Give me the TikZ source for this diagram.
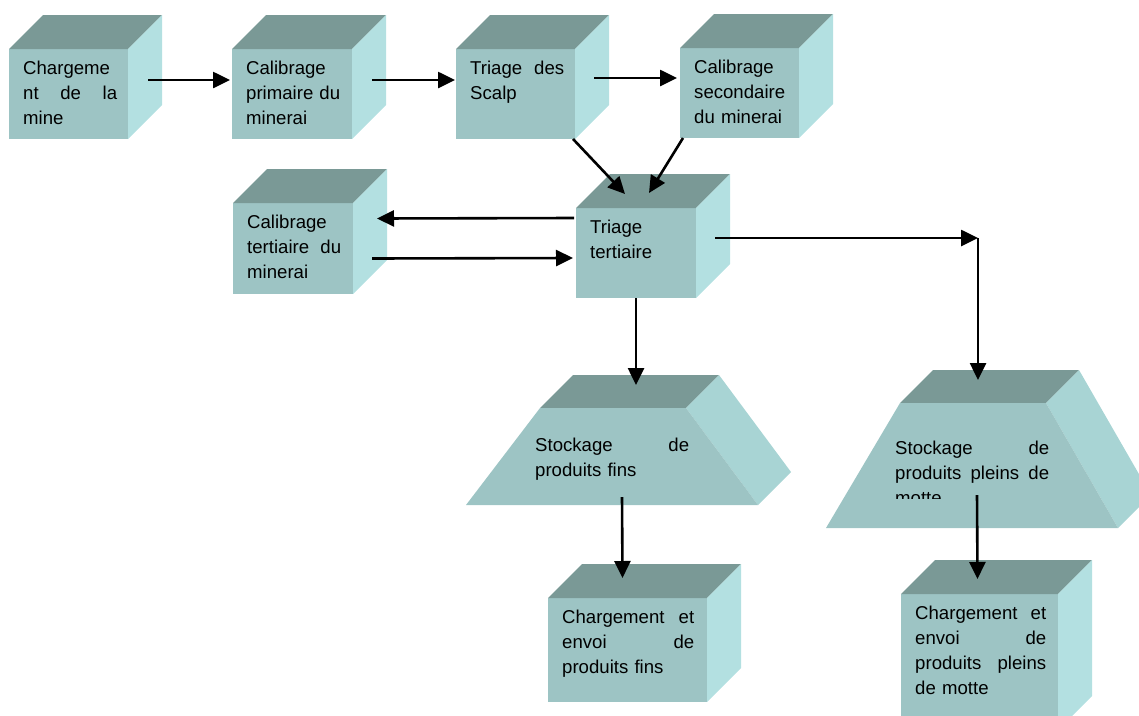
\documentclass[tikz,border=0pt]{standalone}
\usepackage{fontspec}
\setmainfont{Liberation Sans}
\usetikzlibrary{calc,arrows.meta}

\definecolor{faceavant}{RGB}{157,196,196}
\definecolor{facehaut}{RGB}{122,153,150}
\definecolor{facecote}{RGB}{179,224,225}
\definecolor{facecotetas}{RGB}{168,212,212}

\tikzset{
  face/.style={fill=faceavant, inner sep=0, outer sep=0},
  haut/.style={fill=facehaut},
  cote/.style={fill=facecote},
  cotetas/.style={fill=facecotetas},
  texte/.style={anchor=north west, inner sep=0, align=left,
    font=\fontsize{18.6}{25}\selectfont},
  fleche/.style={-{Triangle[length=17pt,width=16pt]}, line width=2.6pt},
}

% bloc en cube : nom, x, y, largeur, hauteur, largeur du texte, texte
\newcommand{\bloc}[7]{%
  \node[face, anchor=north west, minimum width=#4, minimum height=#5] (#1) at (#2,#3) {};
  \fill[haut] (#1.north west) -- ++(34,-34) -- ++(#4,0) -- (#1.north east) -- cycle;
  \fill[cote] (#1.north east) -- ++(34,-34) -- ++(0,#5) -- (#1.south east) -- cycle;
  \node[texte, text width=#6] (#1-t) at ($(#1.north west)+(14,12)$) {#7};
}

% tas en trapeze : nom, x, y, largeur, hauteur, retrait du texte, texte
\newcommand{\tas}[7]{%
  \node[inner sep=0, outer sep=0, anchor=north west, minimum width=#4, minimum height=#5] (#1) at (#2,#3) {};
  \fill[haut] ($(#1.north west)+(74,0)$) -- ++(33,-33) -- ($(#1.north east)+(-39,-33)$)
    -- ($(#1.north east)+(-72,0)$) -- cycle;
  \fill[cotetas] ($(#1.north east)+(-72,0)$) -- ++(33,-33) -- ($(#1.south east)+(33,-33)$)
    -- (#1.south east) -- cycle;
  \fill[faceavant] (#1.south west) -- ($(#1.north west)+(74,0)$) -- ($(#1.north east)+(-72,0)$)
    -- (#1.south east) -- cycle;
  \begin{scope}
    \clip (#1.north west) rectangle ($(#1.north east)+(0,95)$);
    \node[texte, text width=154] (#1-t) at ($(#1.north west)+(69,#6)$) {#7};
  \end{scope}
}

\begin{document}
\begin{tikzpicture}[x=1pt, y=-1pt]
  \clip (0,0) rectangle (1139,715);

  % premiere rangee
  \bloc{mine}{9}{49}{119}{90}{94}{Chargeme\\nt\hfill de\hfill la\\mine}
  \bloc{calP}{232}{49}{120}{90}{94}{Calibrage\\primaire\hfill du\\minerai}
  \bloc{scalp}{456}{49}{119}{90}{94}{Triage\hfill des\\Scalp}
  \bloc{calS}{680}{48}{119}{90}{94}{Calibrage\\secondaire\\du minerai}

  % triage tertiaire
  \bloc{calT}{233}{203}{120}{91}{94}{Calibrage\\tertiaire\hfill du\\minerai}
  \bloc{triT}{576}{208}{120}{90}{94}{Triage\\tertiaire}

  % stockage
  \tas{stockF}{466}{408}{292}{97}{30}{Stockage\hfill de\\produits fins}
  \tas{stockM}{826}{403}{292}{125}{38}{Stockage\hfill de\\produits\hfill pleins\hfill de\\motte}

  % expedition
  \bloc{envF}{548}{598}{159}{104}{132}{Chargement\hfill et\\envoi\hfill de\\produits fins}
  \bloc{envM}{901}{594}{157}{136}{131}{Chargement\hfill et\\envoi\hfill de\\produits\hfill pleins\\de motte}

  \coordinate (coin) at (978,238);

  \draw[fleche] ($(mine.east)+(20,-14)$) -- ($(calP.west)+(-2,-14)$);
  \draw[fleche] ($(calP.east)+(20,-14)$) -- ($(scalp.west)+(-1,-14)$);
  \draw[fleche] ($(scalp.east)+(19,-16)$) -- ($(calS.west)+(-3,-15)$);
  \draw[fleche] ($(scalp.south east)+(-2,0)$) -- ($(triT.north)+(-11,-14)$);
  \draw[fleche] ($(calS.south west)+(3,0)$) -- ($(triT.north)+(13,-15)$);
  \draw[fleche] ($(triT.west)+(-2,-35)$) -- ($(calT.east)+(24,-30)$);
  \draw[fleche] ($(calT.east)+(19,10)$) -- ($(triT.west)+(-3,5)$);
  \draw[fleche] ($(triT.east)+(19,-15)$) -- (coin);
  \draw[fleche] (coin) -- ($(coin |- stockM.north)+(0,-23)$);
  \draw[fleche] (triT.south) -- ($(triT.south |- stockF.north)+(0,-23)$);
  \draw[fleche] ($(stockF.south)+(10,-8)$) -- ($(envF.north)+(-5,-20)$);
  \draw[fleche] ($(stockM.south)+(5,-33)$) -- ($(envM.north)+(-2,-15)$);
\end{tikzpicture}
\end{document}
